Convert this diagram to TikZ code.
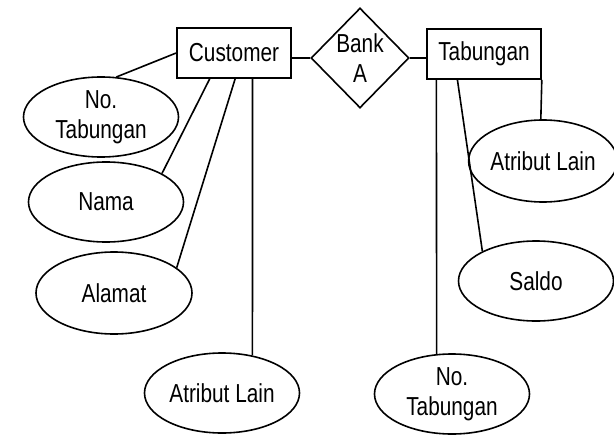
\documentclass[tikz,border=0pt]{standalone}
\usepackage{fontspec}
\setmainfont{Liberation Sans}[FakeStretch=0.8]
\usetikzlibrary{shapes.geometric,calc}
\begin{document}
\begin{tikzpicture}[x=0.75pt,y=-0.75pt,
  every node/.style={font=\fontsize{19.5}{22.5}\selectfont, align=center, inner sep=0pt, line width=1.2pt},
  entity/.style={draw, rectangle, minimum width=85.5pt, minimum height=37.5pt},
  attr/.style={draw, ellipse, minimum width=116.25pt, minimum height=60pt},
  rel/.style={draw, diamond, minimum width=73.5pt, minimum height=75pt},
  link/.style={line width=1.2pt}]
\useasboundingbox (0,0) rectangle (614,435);

% entities and relationship
\node[entity] (cust) at (234,53) {Customer};
\node[rel]    (bank) at (360,58) {Bank\\A};
\node[entity] (tab)  at (484,54) {Tabungan};

% attributes of Customer
\node[attr] (nt1)    at (101,117) {No.\\Tabungan};
\node[attr] (nama)   at (106,202) {Nama};
\node[attr, minimum width=117pt, minimum height=61.5pt] (alamat) at (114,293) {Alamat};
\node[attr] (al1)    at (222,393) {Atribut Lain};

% attributes of Tabungan
\node[attr, minimum width=103.5pt, minimum height=61.5pt] (al2) at (543,161) {Atribut Lain};
\node[attr] (saldo)  at (536,281) {Saldo};
\node[attr] (nt2)    at (452,394) {No.\\Tabungan};

% relationship links
\draw[link] (bank.west) -- (bank.west -| cust.east);
\draw[link] (bank.east) -- (bank.east -| tab.west);

% Customer attribute links
\draw[link] (cust.west) -- (nt1.69);
\draw[link] ($(cust.south west)!0.29!(cust.south east)$) -- (nama.27);
\draw[link] ($(cust.south west)!0.51!(cust.south east)$) -- (alamat.22);
\draw[link] ($(cust.south west)!0.66!(cust.south east)$) -- (al1.51);

% Tabungan attribute links
\draw[link] ($(tab.south west)!0.088!(tab.south east)$) -- (nt2.111);
\draw[link] ($(tab.south west)!0.27!(tab.south east)$) -- (saldo.151);
\draw[link] (tab.south east) -- (al2.93);
\end{tikzpicture}
\end{document}
